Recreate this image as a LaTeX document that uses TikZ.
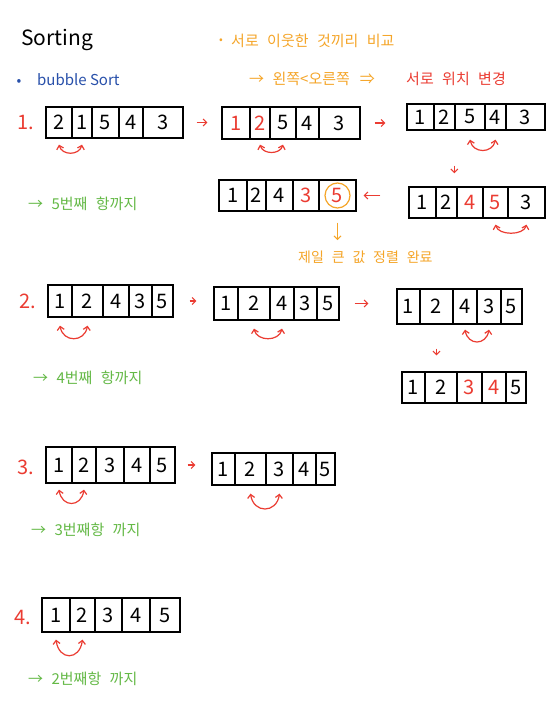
\documentclass[tikz,border=0pt]{standalone}
\usepackage{fontspec}
\setmainfont{Noto Sans CJK KR}
\newfontfamily\kr[WordSpace=2.5]{Noto Sans CJK KR}
\usetikzlibrary{arrows.meta}
\definecolor{hred}{HTML}{EB3C32}
\definecolor{horange}{HTML}{F5A528}
\definecolor{hgreen}{HTML}{64B946}
\definecolor{hblue}{HTML}{2850AA}
\newcommand\fs[1]{\fontsize{#1}{#1}\selectfont}
\newcommand\arrrow[4]{%
  \foreach \xa/\xb/\t [count=\i] in {#4}{%
    \node[cell, minimum width={(\xb-\xa)*1pt}, minimum height={(#3-#2)*1pt}]
      (#1c\i) at ({(\xa+\xb)/2},{(#2+#3)/2}) {\t};
  }}
\newcommand\swaparc[4]{\draw[swaparrow] ([yshift=-#3pt]#1.south) .. controls +(3,#4) and +(-3,#4) .. ([yshift=-#3pt]#2.south);}
\newcommand\rd[1]{\textcolor{hred}{#1}}
\begin{document}
\begin{tikzpicture}[x=1pt,y=-1pt,
  cell/.style={draw=black, line width=1.3pt, inner sep=0pt, font=\fs{20}},
  swaparrow/.style={draw=hred, line width=1.2pt, {Straight Barb[length=3.5pt,width=7pt]}-{Straight Barb[length=3.5pt,width=7pt]}},
  flow/.style={draw=hred, line width=1.1pt, -{Straight Barb[length=3.5pt,width=7pt]}},
  oflow/.style={draw=horange, line width=1.1pt, -{Straight Barb[length=3.5pt,width=7pt]}},
  lbl/.style={text=hred, font=\fs{20}, anchor=base west, inner sep=0pt},
  gtxt/.style={text=hgreen, font=\kr\fs{15}, anchor=west, inner sep=0pt},
  otxt/.style={text=horange, font=\kr\fs{15}, anchor=base west, inner sep=0pt}]
\useasboundingbox (0,0) rectangle (553,714);
\fill[white] (0,0) rectangle (553,714);

% headings
\node[anchor=base west, inner sep=0pt, font=\fs{21}] (title) at (21,46) {Sorting};
\node[text=hblue, font=\fs{14}, inner sep=0pt] (bdot) at (19,82) {•};
\node[text=hblue, font=\fs{15}, anchor=base west, inner sep=0pt] (bubble) at (37,86) {bubble Sort};
\node[text=horange, font=\fs{11}, inner sep=0pt] (odot) at (221,41) {•};
\node[otxt] (rule1) at (231,47) {서로 이웃한 것끼리 비교};
\node[otxt] (rule2) at (249,85) {→ 왼쪽<오른쪽\hspace{10pt}⇒};
\node[otxt, text=hred] (rule3) at (406,85) {서로 위치 변경};

% pass 1
\node[lbl] (l1) at (17,130) {1.};
\arrrow{A1}{107}{138}{46/72/2, 72/92/1, 92/119/5, 119/143/4, 143/183/3}
\arrrow{A2}{107}{139}{222/250/\rd{1}, 250/270/\rd{2}, 270/296/5, 296/319/4, 319/360/3}
\arrrow{A3}{104}{130}{407/434/1, 434/455/2, 455/485/5, 485/506/4, 506/545/3}
\arrrow{A4}{187}{218}{409/436/1, 436/457/2, 457/483/\rd{4}, 483/508/\rd{5}, 508/545/3}
\arrrow{A5}{180}{211}{219/247/1, 247/266/2, 266/293/4, 293/319/\rd{3}, 319/356/\rd{5}}
\node[draw=horange, line width=1.2pt, circle, minimum size=25pt, inner sep=0pt] (circ) at (A5c5) {};
\swaparc{A1c1}{A1c2}{6}{11}
\swaparc{A2c2}{A2c3}{5}{10}
\swaparc{A3c3}{A3c4}{9}{14}
\swaparc{A4c4}{A4c5}{6}{11}
\draw[flow, shorten <=13pt, shorten >=14pt] (A1c5.east) -- (A1c5.east -| A2c1.west);
\draw[flow, shorten <=14pt, shorten >=21pt] (A2c5.east) -- (A2c5.east -| A3c1.west);
\draw[flow, shorten <=35pt, shorten >=13pt] (A3c3.south west) -- (A3c3.south west |- A4c3.north);
\draw[flow, shorten <=28pt, shorten >=7pt] (A4c1.west |- A5c5.east) -- (A5c5.east);
\node[gtxt] (g1) at (28,204) {→ 5번째 항까지};
\node[otxt, font=\kr\fs{14}] (done) at (298,262) {제일 큰 값 정렬 완료};
\draw[oflow, shorten <=14pt, shorten >=10pt] (circ.south) -- (circ.south |- done.north);

% pass 2
\node[lbl] (l2) at (19,308) {2.};
\arrrow{B1}{285}{317}{48/72/1, 72/103/2, 103/129/4, 129/152/3, 152/173/5}
\arrrow{B2}{287}{320}{214/238/1, 238/270/2, 270/294/4, 294/317/3, 317/339/5}
\arrrow{B3}{289}{324}{397/420/1, 420/453/2, 453/477/4, 477/501/3, 501/522/5}
\arrrow{B4}{372}{403}{402/425/1, 425/457/2, 457/482/\rd{3}, 482/506/\rd{4}, 506/526/5}
\swaparc{B1c1}{B1c2}{8}{17}
\swaparc{B2c2}{B2c3}{8}{13}
\swaparc{B3c3}{B3c4}{5}{16}
\draw[flow, shorten <=16pt, shorten >=17pt] (B1c5.east) -- (B1c5.east -| B2c1.west);
\draw[flow, shorten <=15pt, shorten >=28pt] (B2c5.east) -- (B2c5.east -| B3c1.west);
\draw[flow, shorten <=24pt, shorten >=16pt] (B3c2.south) -- (B3c2.south |- B4c2.north);
\node[gtxt] (g2) at (33,378) {→ 4번째 항까지};

% pass 3
\node[lbl] (l3) at (17,474) {3.};
\arrrow{C1}{447}{483}{46/72/1, 72/96/2, 96/124/3, 124/150/4, 150/175/5}
\arrrow{C2}{453}{485}{212/235/1, 235/266/2, 266/293/3, 293/316/4, 316/335/5}
\swaparc{C1c1}{C1c2}{6}{18}
\swaparc{C2c2}{C2c3}{8}{20}
\draw[flow, shorten <=12pt, shorten >=16pt] (C1c5.east) -- (C1c5.east -| C2c1.west);
\node[gtxt] (g3) at (31,530) {→ 3번째항 까지};

% pass 4
\node[lbl] (l4) at (14,624) {4.};
\arrrow{D1}{598}{632}{42/70/1, 70/95/2, 95/122/3, 122/150/4, 150/180/5}
\swaparc{D1c1}{D1c2}{7}{21}
\node[gtxt] (g4) at (28,679) {→ 2번째항 까지};
\end{tikzpicture}
\end{document}
